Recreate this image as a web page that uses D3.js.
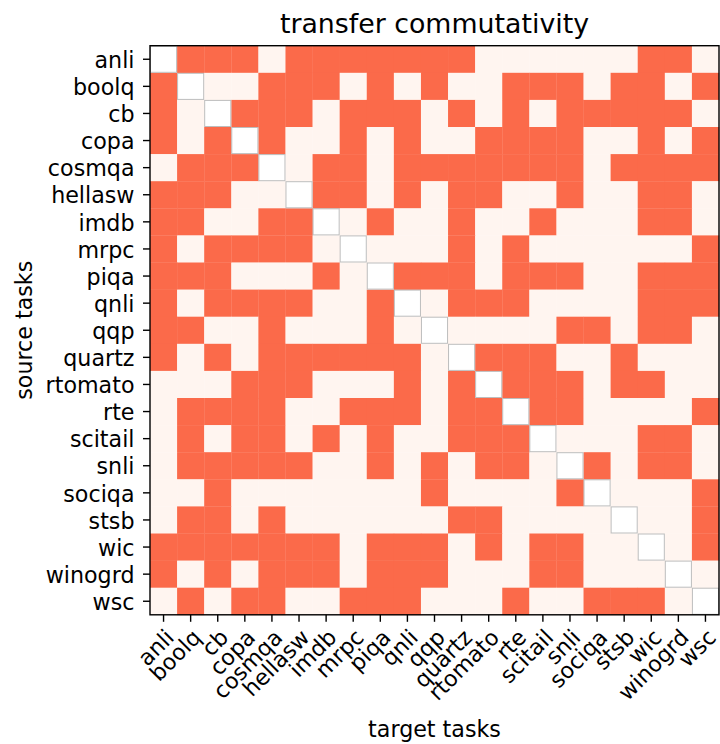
<!DOCTYPE html>
<html>
<head>
<meta charset="utf-8">
<script src="https://cdn.jsdelivr.net/npm/d3@7"></script>
<style>
  html, body { margin: 0; padding: 0; background: #fff; }
  svg { display: block; font-family: "DejaVu Sans", sans-serif; }
</style>
</head>
<body>
<svg id="chart" width="720" height="744"></svg>
<script>
// ---- data ----
const tasks = ["anli","boolq","cb","copa","cosmqa","hellasw","imdb","mrpc","piqa","qnli",
  "qqp","quartz","rtomato","rte","scitail","snli","sociqa","stsb","wic","winogrd","wsc"];

// 1 = transfer not commutative (dark), 0 = commutative (light), null = diagonal
const transferRows = [
  /* anli    */ [null,1,1,1,0,1,1,1,1,1,1,1,0,0,0,0,0,0,1,1,0],
  /* boolq   */ [1,null,0,0,1,1,1,0,1,0,1,0,0,1,1,1,0,1,1,0,1],
  /* cb      */ [1,0,null,1,1,1,0,1,1,1,0,1,0,1,0,1,1,1,1,1,0],
  /* copa    */ [1,0,1,null,1,0,0,1,0,1,0,0,1,1,1,1,0,0,1,0,1],
  /* cosmqa  */ [0,1,1,1,null,0,1,1,0,1,1,1,1,1,1,1,0,1,1,1,1],
  /* hellasw */ [1,1,1,0,0,null,1,1,0,1,0,1,1,0,0,1,0,0,1,1,0],
  /* imdb    */ [1,1,0,0,1,1,null,0,1,0,0,1,0,0,1,0,0,0,1,1,0],
  /* mrpc    */ [1,0,1,1,1,1,0,null,0,0,0,1,0,1,0,0,0,0,0,0,1],
  /* piqa    */ [1,1,1,0,0,0,1,0,null,1,1,1,0,1,1,1,0,0,1,1,1],
  /* qnli    */ [1,0,1,1,1,1,0,0,1,null,0,1,1,1,0,0,0,0,1,1,1],
  /* qqp     */ [1,1,0,0,1,0,0,0,1,0,null,0,0,0,0,1,1,0,1,1,0],
  /* quartz  */ [1,0,1,0,1,1,1,1,1,1,0,null,1,1,1,0,0,1,0,0,0],
  /* rtomato */ [0,0,0,1,1,1,0,0,0,1,0,1,null,1,1,1,0,1,1,0,0],
  /* rte     */ [0,1,1,1,1,0,0,1,1,1,0,1,1,null,1,1,0,0,0,0,1],
  /* scitail */ [0,1,0,1,1,0,1,0,1,0,0,1,1,1,null,0,0,0,1,1,0],
  /* snli    */ [0,1,1,1,1,1,0,0,1,0,1,0,1,1,0,null,1,0,1,1,0],
  /* sociqa  */ [0,0,1,0,0,0,0,0,0,0,1,0,0,0,0,1,null,0,0,0,1],
  /* stsb    */ [0,1,1,0,1,0,0,0,0,0,0,1,1,0,0,0,0,null,0,0,1],
  /* wic     */ [1,1,1,1,1,1,1,0,1,1,1,0,1,0,1,1,0,0,null,0,1],
  /* winogrd */ [1,0,1,0,1,1,1,0,1,1,1,0,0,0,1,1,0,0,0,null,0],
  /* wsc     */ [0,1,0,1,1,0,0,1,1,1,0,0,0,1,0,0,1,1,1,0,null]
];

const titleText = "transfer commutativity";
const xLabelText = "target tasks";
const yLabelText = "source tasks";

// ---- layout ----
const svg = d3.select("#chart");
const pL = 150, pR = 719, pT = 45.7, pB = 614.8;
const x = d3.scaleBand().domain(tasks).range([pL, pR]).padding(0);
const y = d3.scaleBand().domain(tasks).range([pT, pB]).padding(0);
const color = d3.scaleOrdinal().domain([0, 1]).range(["#fff5f0", "#fb6a4a"]);

const cells = [];
transferRows.forEach((row, i) => row.forEach((v, j) => cells.push({src: tasks[i], tgt: tasks[j], v})));

svg.append("g").selectAll("rect").data(cells.filter(d => d.v !== null)).join("rect")
  .attr("x", d => x(d.tgt)).attr("y", d => y(d.src))
  .attr("width", x.bandwidth() + 0.3).attr("height", y.bandwidth() + 0.3)
  .attr("fill", d => color(d.v));

svg.append("g").selectAll("rect").data(cells.filter(d => d.v === null)).join("rect")
  .attr("x", d => x(d.tgt) + 0.5).attr("y", d => y(d.src) + 0.5)
  .attr("width", x.bandwidth() - 1).attr("height", y.bandwidth() - 1)
  .attr("fill", "#ffffff").attr("stroke", "#bdbdbd").attr("stroke-width", 1);

// frame
svg.append("rect").attr("x", pL).attr("y", pT).attr("width", pR - pL).attr("height", pB - pT)
  .attr("fill", "none").attr("stroke", "#000").attr("stroke-width", 1.4);

const fs = 22.2;
// y axis
const yAxis = svg.append("g").attr("transform", `translate(${pL},0)`)
  .call(d3.axisLeft(y).tickSize(7).tickPadding(8.5));
yAxis.select(".domain").remove();
yAxis.attr("font-size", fs).attr("font-family", "DejaVu Sans");
yAxis.selectAll(".tick line").attr("stroke", "#000").attr("stroke-width", 1.4);
yAxis.selectAll(".tick text").attr("dy", "0.39em").attr("fill", "#000");

// x axis
const xAxis = svg.append("g").attr("transform", `translate(0,${pB})`)
  .call(d3.axisBottom(x).tickSize(7).tickPadding(0));
xAxis.select(".domain").remove();
xAxis.attr("font-size", fs).attr("font-family", "DejaVu Sans");
xAxis.selectAll(".tick line").attr("stroke", "#000").attr("stroke-width", 1.4);
xAxis.selectAll(".tick text")
  .attr("fill", "#000")
  .attr("text-anchor", "end").attr("y", 0).attr("dy", 0)
  .attr("transform", "translate(11.9,24.1) rotate(-45)");

// title and axis labels
svg.append("text").attr("x", (pL + pR) / 2).attr("y", 33).attr("text-anchor", "middle")
  .attr("font-size", 26.8).attr("fill", "#000").text(titleText);
svg.append("text").attr("x", (pL + pR) / 2).attr("y", 737).attr("text-anchor", "middle")
  .attr("font-size", fs).attr("fill", "#000").text(xLabelText);
svg.append("text").attr("transform", `translate(31.5,${(pT + pB) / 2}) rotate(-90)`)
  .attr("text-anchor", "middle").attr("font-size", fs).attr("fill", "#000").text(yLabelText);
</script>
</body>
</html>
